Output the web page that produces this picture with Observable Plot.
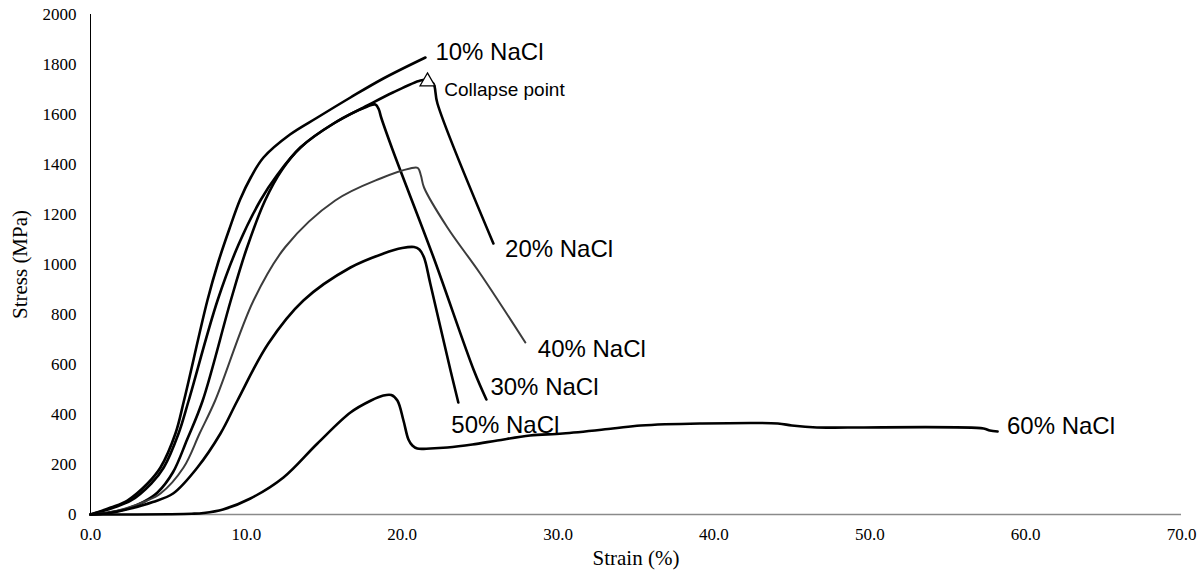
<!DOCTYPE html>
<html><head><meta charset="utf-8">
<script src="https://cdn.jsdelivr.net/npm/d3@7"></script>
<script src="https://cdn.jsdelivr.net/npm/@observablehq/plot@0.6"></script>
<style>html,body{margin:0;padding:0;background:#fff}</style>
</head><body><div id="chart"></div>
<script>
// Stress–strain curves (strain %, stress MPa)
const strain10 = [0,1.3,2.37,3.66,4.49,5.45,6.0,7.5,8.2,8.9,9.6,10.3,11.1,12.8,14.56,16.68,18.79,21.49];
const stress10 = [0,28,56,124,188,324,456,856,1010,1140,1260,1350,1428,1520,1588,1668,1744,1828];

const strain20 = [0,1.5,2.6,3.9,4.7,5.65,6.3,8.15,9.5,10.9,12.0,13.47,15.6,17.77,19.4,21.17,21.6,22.0,22.26,25.85];
const stress20 = [0,28,56,124,188,324,456,856,1080,1256,1360,1468,1564,1636,1688,1736,1738,1724,1644,1084];

const strain30 = [0,1.2,2.4,3.4,4.3,5.3,6.2,7.2,9.0,10.0,11.2,12.3,13.47,15.6,17.77,18.28,18.5,18.65,19.4,22.0,24.6,25.4];
const stress30 = [0,8,24,50,88,170,300,456,856,1060,1256,1380,1468,1564,1632,1640,1620,1588,1456,1030,576,460];

const strain40 = [0,1,2.25,3.5,4.49,5.97,7.0,8.0,10.46,12.5,15.7,18.6,20.5,21.0,21.2,21.4,22.9,25.0,27.9];
const stress40 = [0,6,24,52,84,188,324,456,856,1070,1256,1344,1384,1386,1356,1308,1148,964,688];

const strain50 = [0,1,2.57,4.0,5.3,6.86,8.34,9.43,11.4,13.66,16.68,18.8,20.0,20.76,21.1,21.4,21.8,23.1,23.6];
const stress50 = [0,4,24,50,84,188,324,456,683,856,988,1044,1066,1070,1060,1028,924,576,448];

const strain60 = [0,3,5,6.5,7.25,8.5,10.26,12.38,14.56,16.68,18.0,18.79,19.3,19.69,20.08,20.4,20.65,20.97,21.8,22.9,24.5,26.1,28.2,30.3,33.5,35.3,39.1,44.1,45.0,46.6,48.7,57.3,57.7,58.2];
const stress60 = [0,0,1,3,6,20,64,148,284,408,456,476,478,456,376,300,276,264,264,268,280,296,316,324,344,356,364,364,356,348,348,344,336,332];

const seriesNames = ["10% NaCl","20% NaCl","30% NaCl","40% NaCl","50% NaCl","60% NaCl"];
const seriesColors = ["#000","#000","#000","#3c3c3c","#000","#000"];

// label positions (strain, stress) of the in-plot text
const labelText = ["10% NaCl","20% NaCl","40% NaCl","30% NaCl","50% NaCl","60% NaCl"];
const labelX = [22.13,26.6,28.7,25.66,23.15,58.8];
const labelY = [1848,1060,660,508,356,352];

const collapseX = [21.62];
const collapseY = [1732];
const collapseText = ["Collapse point"];
const collapseTextX = [22.7];
const collapseTextY = [1700];

const xTicks = [0,10,20,30,40,50,60,70];
const yTicks = [0,200,400,600,800,1000,1200,1400,1600,1800,2000];

const rows = [];
[[strain10,stress10],[strain20,stress20],[strain30,stress30],[strain40,stress40],[strain50,stress50],[strain60,stress60]]
  .forEach(([xs,ys],k)=>xs.forEach((x,i)=>rows.push({series:seriesNames[k], strain:x, stress:ys[i]})));

const labels = labelText.map((t,i)=>({t, x:labelX[i], y:labelY[i]}));
const collapse = collapseX.map((x,i)=>({x, y:collapseY[i]}));
const collapseLabel = collapseText.map((t,i)=>({t, x:collapseTextX[i], y:collapseTextY[i]}));

const chart = Plot.plot({
  width:1203, height:571,
  marginLeft:90, marginRight:22, marginTop:14, marginBottom:57,
  style:{fontFamily:"'Liberation Serif', 'Times New Roman', serif", fontSize:"17px", background:"#fff", color:"#000"},
  x:{domain:[0,70]},
  y:{domain:[0,2000]},
  color:{domain:seriesNames, range:seriesColors},
  marks:[
    Plot.ruleY([0],{stroke:"#8a8a8a", strokeWidth:1.6}),
    Plot.ruleX([0],{stroke:"#000", strokeWidth:1}),
    Plot.axisX({ticks:xTicks, tickFormat:d=>d.toFixed(1), tickSize:0, tickPadding:13, fontSize:17}),
    Plot.axisX({ticks:[], tickSize:0, label:"Strain (%)", labelAnchor:"center", labelArrow:"none", labelOffset:50, fontSize:21}),
    Plot.axisY({ticks:yTicks, tickFormat:d=>String(d), tickSize:0, tickPadding:14, fontSize:17}),
    Plot.axisY({ticks:[], tickSize:0, label:"Stress (MPa)", labelAnchor:"center", labelArrow:"none", labelOffset:78, fontSize:21}),
    Plot.line(rows,{x:"strain", y:"stress", z:"series", stroke:"series", curve:"catmull-rom",
      strokeWidth:d=>d.series==="40% NaCl"?2:2.6, strokeLinejoin:"round", strokeLinecap:"round"}),
    Plot.dot(collapse,{x:"x", y:"y", symbol:"triangle", r:5.5, fill:"#fff", stroke:"#000", strokeWidth:1.3}),
    Plot.text(labels,{x:"x", y:"y", text:"t", textAnchor:"start", fontFamily:"'Liberation Sans', Arial, sans-serif", fontSize:24, fill:"#000"}),
    Plot.text(collapseLabel,{x:"x", y:"y", text:"t", textAnchor:"start", fontFamily:"'Liberation Sans', Arial, sans-serif", fontSize:19, fill:"#000"})
  ]
});
document.getElementById("chart").appendChild(chart);
</script>
</body></html>
